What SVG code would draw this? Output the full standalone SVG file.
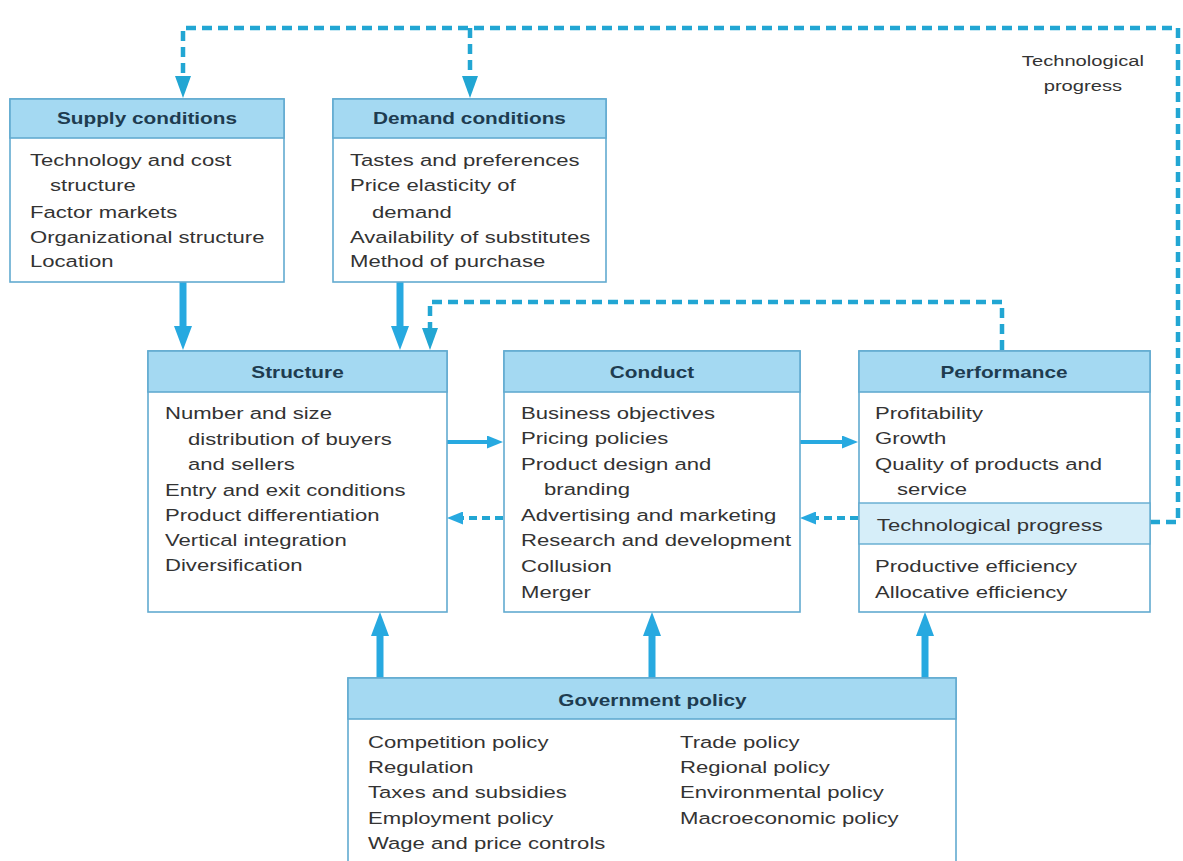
<svg xmlns="http://www.w3.org/2000/svg" width="1183" height="861" viewBox="0 0 1183 861">
<style>
.box{fill:#ffffff;stroke:#62abd0;stroke-width:1.6}
.hdr{fill:#a4d9f2;stroke:#62abd0;stroke-width:1.6}
.band{fill:#d6eef9;stroke:#62abd0;stroke-width:1.4}
.t{font-family:"Liberation Sans",Arial,sans-serif;font-size:17px;fill:#333333}
.h{font-family:"Liberation Sans",Arial,sans-serif;font-size:16px;font-weight:bold;fill:#1e3c50;text-anchor:middle}
.lab{font-family:"Liberation Sans",Arial,sans-serif;font-size:15.5px;fill:#333333;text-anchor:middle}
.solid{fill:none;stroke:#27a9e0;stroke-width:7}
.thin{fill:none;stroke:#27a9e0;stroke-width:4}
.dash{fill:none;stroke:#22a6d3;stroke-width:4.5;stroke-dasharray:10 6}
.dashs{fill:none;stroke:#22a6d3;stroke-width:4;stroke-dasharray:8 5}
</style>
<defs>
<marker id="ahBig" markerUnits="userSpaceOnUse" markerWidth="24" markerHeight="18" viewBox="0 0 24 18" refX="4" refY="9" orient="auto"><path d="M0,0 L24,9 L0,18 z" fill="#27a9e0"/></marker>
<marker id="ahSmall" markerUnits="userSpaceOnUse" markerWidth="16" markerHeight="13" viewBox="0 0 16 13" refX="3" refY="6.5" orient="auto"><path d="M0,0 L16,6.5 L0,13 z" fill="#27a9e0"/></marker>
<marker id="ahDash" markerUnits="userSpaceOnUse" markerWidth="22" markerHeight="16" viewBox="0 0 22 16" refX="3" refY="8" orient="auto"><path d="M0,0 L22,8 L0,16 z" fill="#22a6d3"/></marker>
</defs>
<rect width="1183" height="861" fill="#ffffff"/>

<g id="connectors">
<path class="solid" d="M183,282 V330" marker-end="url(#ahBig)"/>
<path class="solid" d="M400,282 V330" marker-end="url(#ahBig)"/>
<path class="solid" d="M380,678 V632" marker-end="url(#ahBig)"/>
<path class="solid" d="M652,678 V632" marker-end="url(#ahBig)"/>
<path class="solid" d="M925,678 V632" marker-end="url(#ahBig)"/>
<path class="thin" d="M447,442 H490" marker-end="url(#ahSmall)"/>
<path class="thin" d="M800,442 H845" marker-end="url(#ahSmall)"/>
<path class="dashs" d="M503,518 H460" marker-end="url(#ahSmall)"/>
<path class="dashs" d="M858,518 H813" marker-end="url(#ahSmall)"/>
<path class="dash" d="M1150,522 H1178 V28 H183 V79" marker-end="url(#ahDash)"/>
<path class="dash" d="M470,28 V79" marker-end="url(#ahDash)"/>
<path class="dash" d="M1002,350 V302 H430 V331" marker-end="url(#ahDash)"/>
</g>

<g id="tech-label" transform="scale(1.3 1)">
<text class="lab" x="833" y="66">Technological</text>
<text class="lab" x="833" y="91">progress</text>
</g>

<g id="supply">
<rect class="box" x="10" y="99" width="274" height="183"/>
<rect class="hdr" x="10" y="99" width="274" height="39"/>
<g transform="scale(1.3 1)">
<text class="h" x="113.08" y="124">Supply conditions</text>
<text class="t" x="23.08" y="166">Technology and cost</text>
<text class="t" x="38.46" y="191">structure</text>
<text class="t" x="23.08" y="218">Factor markets</text>
<text class="t" x="23.08" y="243">Organizational structure</text>
<text class="t" x="23.08" y="267">Location</text>
</g>
</g>

<g id="demand">
<rect class="box" x="333" y="99" width="273" height="183"/>
<rect class="hdr" x="333" y="99" width="273" height="39"/>
<g transform="scale(1.3 1)">
<text class="h" x="361.15" y="124">Demand conditions</text>
<text class="t" x="269.23" y="166">Tastes and preferences</text>
<text class="t" x="269.23" y="191">Price elasticity of</text>
<text class="t" x="286.15" y="218">demand</text>
<text class="t" x="269.23" y="243">Availability of substitutes</text>
<text class="t" x="269.23" y="267">Method of purchase</text>
</g>
</g>

<g id="structure">
<rect class="box" x="148" y="351" width="299" height="261"/>
<rect class="hdr" x="148" y="351" width="299" height="41"/>
<g transform="scale(1.3 1)">
<text class="h" x="228.85" y="378">Structure</text>
<text class="t" x="126.92" y="419">Number and size</text>
<text class="t" x="144.62" y="445">distribution of buyers</text>
<text class="t" x="144.62" y="470">and sellers</text>
<text class="t" x="126.92" y="496">Entry and exit conditions</text>
<text class="t" x="126.92" y="521">Product differentiation</text>
<text class="t" x="126.92" y="546">Vertical integration</text>
<text class="t" x="126.92" y="571">Diversification</text>
</g>
</g>

<g id="conduct">
<rect class="box" x="504" y="351" width="296" height="261"/>
<rect class="hdr" x="504" y="351" width="296" height="41"/>
<g transform="scale(1.3 1)">
<text class="h" x="501.54" y="378">Conduct</text>
<text class="t" x="400.77" y="419">Business objectives</text>
<text class="t" x="400.77" y="444">Pricing policies</text>
<text class="t" x="400.77" y="470">Product design and</text>
<text class="t" x="418.46" y="495">branding</text>
<text class="t" x="400.77" y="521">Advertising and marketing</text>
<text class="t" x="400.77" y="546">Research and development</text>
<text class="t" x="400.77" y="572">Collusion</text>
<text class="t" x="400.77" y="598">Merger</text>
</g>
</g>

<g id="performance">
<rect class="box" x="859" y="351" width="291" height="261"/>
<rect class="hdr" x="859" y="351" width="291" height="41"/>
<rect class="band" x="859" y="503" width="291" height="41"/>
<g transform="scale(1.3 1)">
<text class="h" x="772.31" y="378">Performance</text>
<text class="t" x="673.08" y="419">Profitability</text>
<text class="t" x="673.08" y="444">Growth</text>
<text class="t" x="673.08" y="470">Quality of products and</text>
<text class="t" x="690" y="495">service</text>
<text class="t" x="674.5" y="531">Technological progress</text>
<text class="t" x="673.08" y="572">Productive efficiency</text>
<text class="t" x="673.08" y="598">Allocative efficiency</text>
</g>
</g>

<g id="government">
<rect class="box" x="348" y="678" width="608" height="200"/>
<rect class="hdr" x="348" y="678" width="608" height="41"/>
<g transform="scale(1.3 1)">
<text class="h" x="501.92" y="706">Government policy</text>
<text class="t" x="283.08" y="748">Competition policy</text>
<text class="t" x="283.08" y="773">Regulation</text>
<text class="t" x="283.08" y="798">Taxes and subsidies</text>
<text class="t" x="283.08" y="824">Employment policy</text>
<text class="t" x="283.08" y="849">Wage and price controls</text>
<text class="t" x="523.08" y="748">Trade policy</text>
<text class="t" x="523.08" y="773">Regional policy</text>
<text class="t" x="523.08" y="798">Environmental policy</text>
<text class="t" x="523.08" y="824">Macroeconomic policy</text>
</g>
</g>
</svg>
